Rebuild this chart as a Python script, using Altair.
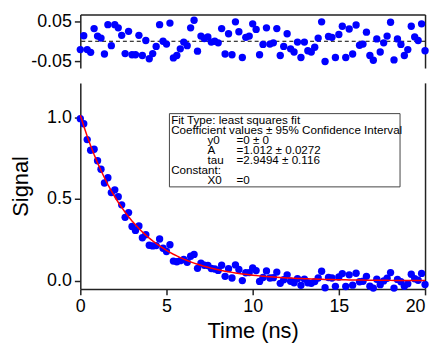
import altair as alt
import pandas as pd

# ---------------- data ----------------
time_ns = [round(i * 0.2, 1) for i in range(101)]

residuals = [
    -0.021, 0.014, -0.021, -0.028, 0.032, 0.013, 0.008, -0.032, 0.042, -0.011,
    0.042, 0.034, 0.015, -0.031, 0.025, -0.034, -0.034, 0.015, -0.036, 0.002,
    -0.044, -0.031, -0.013, 0.042, 0.000, -0.007, 0.046, -0.042, -0.036, -0.019,
    -0.002, -0.011, 0.034, 0.053, -0.025, 0.013, 0.007, 0.011, -0.002, 0.000,
    -0.004, 0.032, -0.032, 0.019, -0.034, 0.049, 0.024, -0.041, 0.010, 0.013,
    0.044, 0.030, -0.034, -0.008, 0.034, -0.007, -0.004, 0.032, -0.036, -0.013,
    0.019, -0.019, -0.027, -0.002, -0.041, -0.002, -0.024, -0.027, -0.015, 0.008,
    0.049, -0.051, 0.012, 0.010, -0.041, 0.017, 0.038, -0.041, 0.031, -0.032,
    0.041, -0.010, -0.007, 0.023, -0.036, -0.048, 0.006, -0.027, -0.004, 0.013,
    0.048, -0.047, 0.006, -0.008, -0.036, -0.021, 0.038, 0.011, 0.002, 0.044,
    -0.024,
]

signal = [
    0.991, 0.960, 0.863, 0.798, 0.804, 0.734, 0.682, 0.598, 0.630, 0.539,
    0.556, 0.514, 0.464, 0.388, 0.417, 0.332, 0.308, 0.335, 0.263, 0.281,
    0.217, 0.213, 0.215, 0.255, 0.199, 0.179, 0.220, 0.120, 0.116, 0.123,
    0.130, 0.113, 0.150, 0.161, 0.076, 0.107, 0.095, 0.093, 0.075, 0.072,
    0.063, 0.095, 0.027, 0.074, 0.017, 0.097, 0.069, 0.001, 0.049, 0.050,
    0.078, 0.062, -0.004, 0.020, 0.060, 0.017, 0.019, 0.053, -0.016, 0.006,
    0.036, -0.003, -0.012, 0.012, -0.028, 0.010, -0.012, -0.016, -0.005, 0.017,
    0.058, -0.043, 0.020, 0.017, -0.034, 0.023, 0.044, -0.035, 0.036, -0.027,
    0.046, -0.006, -0.003, 0.027, -0.033, -0.045, 0.009, -0.024, -0.001, 0.015,
    0.050, -0.045, 0.008, -0.006, -0.034, -0.019, 0.040, 0.012, 0.003, 0.045,
    -0.023,
]

fit_curve = [
    1.0120, 0.9457, 0.8837, 0.8258, 0.7716, 0.7210, 0.6738, 0.6296, 0.5883, 0.5498,
    0.5137, 0.4800, 0.4486, 0.4192, 0.3917, 0.3660, 0.3420, 0.3196, 0.2986, 0.2791,
    0.2608, 0.2437, 0.2277, 0.2128, 0.1988, 0.1858, 0.1736, 0.1622, 0.1516, 0.1417,
    0.1324, 0.1237, 0.1156, 0.1080, 0.1009, 0.0943, 0.0881, 0.0824, 0.0770, 0.0719,
    0.0672, 0.0628, 0.0587, 0.0548, 0.0512, 0.0479, 0.0447, 0.0418, 0.0391, 0.0365,
    0.0341, 0.0319, 0.0298, 0.0278, 0.0260, 0.0243, 0.0227, 0.0212, 0.0198, 0.0185,
    0.0173, 0.0162, 0.0151, 0.0141, 0.0132, 0.0123, 0.0115, 0.0108, 0.0101, 0.0094,
    0.0088, 0.0082, 0.0077, 0.0072, 0.0067, 0.0063, 0.0059, 0.0055, 0.0051, 0.0048,
    0.0045, 0.0042, 0.0039, 0.0036, 0.0034, 0.0032, 0.0030, 0.0028, 0.0026, 0.0024,
    0.0023, 0.0021, 0.0020, 0.0019, 0.0017, 0.0016, 0.0015, 0.0014, 0.0013, 0.0012,
    0.0012,
]

x_ticks = [0, 5, 10, 15, 20]
signal_ticks = [0.0, 0.5, 1.0]
resid_ticks = [-0.05, 0.05]

legend_lines = [
    "Fit Type: least squares fit",
    "Coefficient values ± 95% Confidence Interval",
    "Constant:",
]
coef_names = ["y0", "A", "tau", "X0"]
coef_values = ["=0 ± 0", "=1.012 ± 0.0272", "=2.9494 ± 0.116", "=0"]

# ---------------- tables ----------------
df = pd.DataFrame({"t": time_ns, "signal": signal, "resid": residuals, "fit": fit_curve})
zero_df = pd.DataFrame({"r": [0.0]})

# annotation layout (in data units of the lower panel)
row_y = [0.9855, 0.9237, 0.862, 0.8002, 0.7384, 0.6766, 0.6148]
col_x = [5.27, 7.38, 9.06]
ann_rows = [
    (legend_lines[0], col_x[0], row_y[0]),
    (legend_lines[1], col_x[0], row_y[1]),
    (coef_names[0], col_x[1], row_y[2]),
    (coef_values[0], col_x[2], row_y[2]),
    (coef_names[1], col_x[1], row_y[3]),
    (coef_values[1], col_x[2], row_y[3]),
    (coef_names[2], col_x[1], row_y[4]),
    (coef_values[2], col_x[2], row_y[4]),
    (legend_lines[2], col_x[0], row_y[5]),
    (coef_names[3], col_x[1], row_y[6]),
    (coef_values[3], col_x[2], row_y[6]),
]
ann_df = pd.DataFrame(ann_rows, columns=["label", "t", "y"])
box_df = pd.DataFrame({"t": [5.17], "t2": [18.55], "y": [1.022], "y2": [0.574]})

FONT = "Liberation Sans"
BLUE = "#0000ff"
RED = "#ff0000"
AX = "#222222"

xscale = alt.Scale(domain=[0, 20], nice=False, zero=False, padding=0)
rscale = alt.Scale(domain=[-0.0675, 0.0675], nice=False, zero=False, padding=0)
sscale = alt.Scale(domain=[-0.05, 1.21], nice=False, zero=False, padding=0)

frame_axis = dict(labels=False, ticks=False, title=None, domain=True, grid=False)

# ---------------- top panel: residuals ----------------
zero_rule = alt.Chart(zero_df).mark_rule(
    color="black", strokeDash=[4, 3], strokeWidth=1
).encode(
    y=alt.Y("r:Q", scale=rscale, axis=alt.Axis(orient="right", **frame_axis))
)

resid_pts = alt.Chart(df).mark_circle(size=55, color=BLUE, opacity=1).encode(
    x=alt.X("t:Q", scale=xscale, axis=alt.Axis(orient="top", **frame_axis)),
    y=alt.Y(
        "resid:Q", scale=rscale,
        axis=alt.Axis(
            orient="left", values=resid_ticks, title=None,
            labelExpr="datum.value < 0 ? '-' + format(-datum.value, '.2f') : format(datum.value, '.2f')",
        ),
    ),
)

top = alt.layer(zero_rule, resid_pts).resolve_axis(y="independent").properties(
    width=348, height=54
)

# ---------------- bottom panel: signal + fit ----------------
sig_pts = alt.Chart(df).mark_circle(size=55, color=BLUE, opacity=1).encode(
    x=alt.X(
        "t:Q", scale=xscale, title="Time (ns)",
        axis=alt.Axis(
            values=x_ticks, format="d", titlePadding=5, labelFlush=False,
            labelAlign={"condition": {"test": "datum.value >= 20", "value": "right"}, "value": "center"},
        ),
    ),
    y=alt.Y(
        "signal:Q", scale=sscale, title="Signal",
        axis=alt.Axis(orient="left", values=signal_ticks, format=".1f", titlePadding=14),
    ),
)

fit_line = alt.Chart(df).mark_line(color=RED, strokeWidth=1.5).encode(
    x=alt.X("t:Q", scale=xscale, title="Time (ns)"),
    y=alt.Y("fit:Q", scale=sscale, axis=alt.Axis(orient="right", **frame_axis)),
)

box = alt.Chart(box_df).mark_rect(fill="white", stroke="#444444", strokeWidth=1).encode(
    x=alt.X("t:Q", scale=xscale, title="Time (ns)"),
    x2="t2:Q",
    y=alt.Y("y:Q", scale=sscale, axis=None),
    y2="y2:Q",
)

ann = alt.Chart(ann_df).mark_text(
    align="left", baseline="middle", font=FONT, fontSize=11.75, color="black"
).encode(
    x=alt.X("t:Q", scale=xscale, title="Time (ns)"),
    y=alt.Y("y:Q", scale=sscale, axis=None),
    text="label:N",
)

bottom = alt.layer(sig_pts, fit_line, box, ann).resolve_axis(y="independent").properties(
    width=348, height=208
)

chart = alt.vconcat(top, bottom, spacing=15, bounds="flush").resolve_scale(
    x="independent"
).properties(
    padding={"left": 1, "top": 3, "right": 0, "bottom": 0}
).configure_view(stroke=None).configure_axis(
    grid=False,
    labelFont=FONT, labelFontSize=18, labelColor="black", labelPadding=3,
    titleFont=FONT, titleFontSize=22, titleFontWeight="normal", titleColor="black",
    domainColor=AX, domainWidth=1.5, tickColor=AX, tickWidth=1.5, tickSize=6,
)

chart.save("out.html", embed_options={"renderer": "svg", "actions": False})
